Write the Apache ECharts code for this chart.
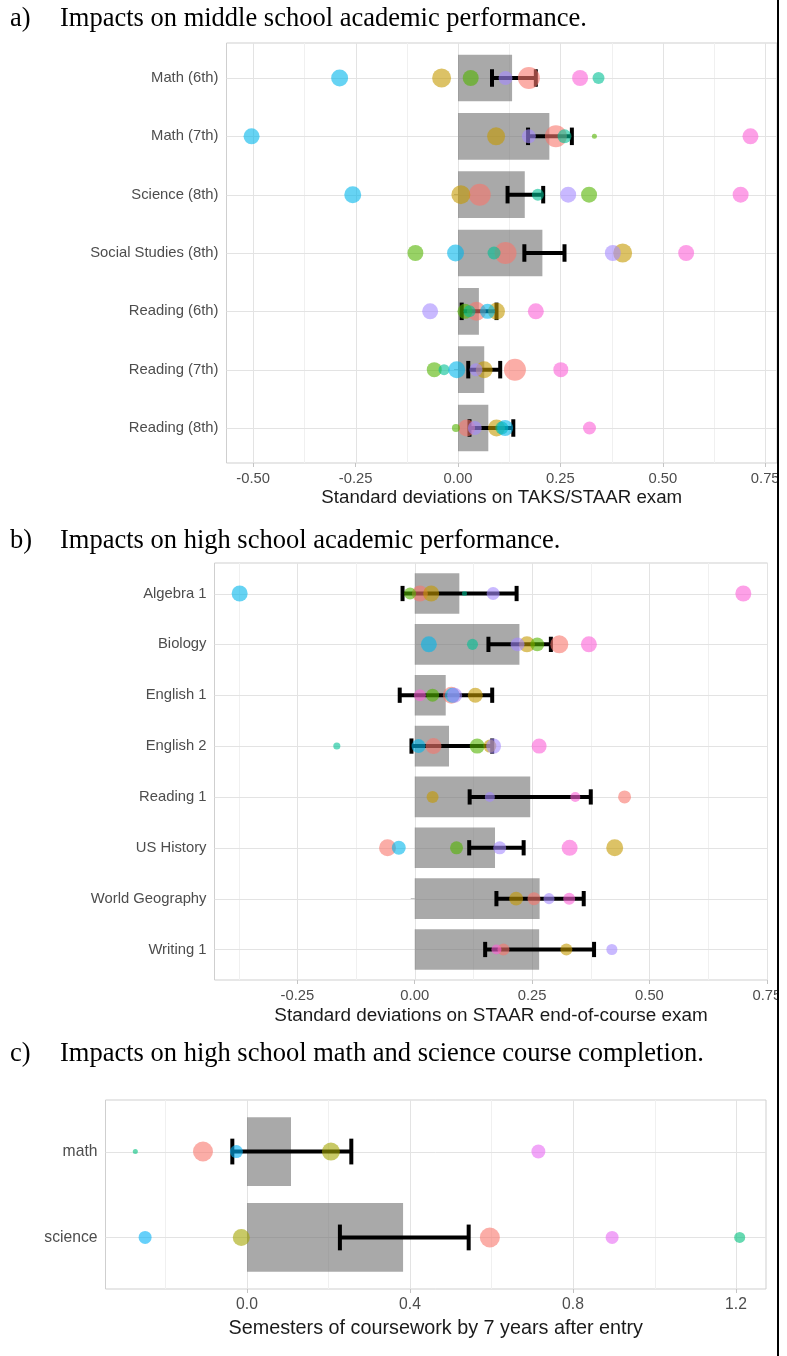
<!DOCTYPE html>
<html>
<head>
<meta charset="utf-8">
<script src="https://cdn.jsdelivr.net/npm/echarts@6/dist/echarts.min.js"></script>
<style>
  html, body { margin: 0; padding: 0; background: #ffffff; }
  #chart { width: 787px; height: 1356px; }
</style>
</head>
<body>
<div id="chart"></div>
<script>
// ---------- a) middle school TAKS/STAAR exams ----------
const msCategories = ['Math (6th)', 'Math (7th)', 'Science (8th)', 'Social Studies (8th)', 'Reading (6th)', 'Reading (7th)', 'Reading (8th)'];
const msPooled = [0.132, 0.223, 0.163, 0.206, 0.051, 0.064, 0.074];
const msLower  = [0.083, 0.171, 0.121, 0.162, 0.009, 0.025, 0.028];
const msUpper  = [0.190, 0.278, 0.208, 0.260, 0.094, 0.103, 0.135];
const msSiteA  = [0.173, 0.239, 0.053, 0.116, 0.045, 0.139, 0.021];
const msWeightA = [13.4, 13.4, 13.4, 13.4, 10.0, 13.4, 8.0];
const msSiteB  = [-0.040, 0.093, 0.007, 0.402, 0.094, 0.064, 0.094];
const msWeightB = [10.0, 9.0, 10.0, 10.0, 8.0, 8.0, 8.0];
const msSiteC  = [0.031, 0.333, 0.320, -0.104, 0.017, -0.058, -0.005];
const msWeightC = [7.1, 0.7, 7.1, 7.1, 6.25, 6.25, 1.8];
const msSiteD  = [0.343, 0.260, 0.195, 0.088, 0.028, -0.034, 0.107];
const msWeightD = [4.0, 5.4, 4.0, 4.7, 4.0, 3.4, 4.7];
const msSiteE  = [-0.289, -0.504, -0.257, -0.006, 0.072, -0.003, 0.115];
const msWeightE = [8.0, 7.1, 8.0, 8.0, 6.25, 8.0, 7.1];
const msSiteF  = [0.116, 0.173, 0.269, 0.378, -0.068, 0.044, 0.041];
const msWeightF = [5.4, 5.4, 7.1, 7.1, 7.1, 4.7, 5.4];
const msSiteG  = [0.298, 0.714, 0.690, 0.557, 0.190, 0.251, 0.321];
const msWeightG = [7.1, 7.1, 7.1, 7.1, 7.1, 6.25, 4.7];
const msTicks = [-0.5, -0.25, 0, 0.25, 0.5, 0.75];
const msMinor = [-0.375, -0.125, 0.125, 0.375, 0.625];

// ---------- b) high school end-of-course exams ----------
const hsCategories = ['Algebra 1', 'Biology', 'English 1', 'English 2', 'Reading 1', 'US History', 'World Geography', 'Writing 1'];
const hsPooled = [0.095, 0.223, 0.066, 0.073, 0.246, 0.171, 0.266, 0.265];
const hsLower  = [-0.026, 0.157, -0.032, -0.007, 0.117, 0.116, 0.174, 0.150];
const hsUpper  = [0.217, 0.290, 0.165, 0.165, 0.375, 0.232, 0.360, 0.382];
const hsSiteA  = [0.011, 0.308, 0.078, 0.040, 0.447, -0.058, 0.254, 0.189];
const hsWeightA = [7.1, 9.0, 8.0, 7.1, 4.7, 8.0, 4.7, 4.0];
const hsSiteB  = [0.035, 0.239, 0.129, 0.160, 0.038, 0.426, 0.216, 0.323];
const hsWeightB = [7.1, 7.1, 6.25, 4.7, 4.0, 8.0, 5.4, 4.0];
const hsSiteC  = [-0.010, 0.261, 0.038, 0.133, null, 0.089, null, null];
const hsWeightC = [4.0, 5.4, 4.7, 6.25, null, 4.7, null, null];
const hsSiteD  = [0.106, 0.123, null, -0.166, null, null, null, null];
const hsWeightD = [0.7, 3.4, null, 1.4, null, null, null, null];
const hsSiteE  = [-0.373, 0.030, 0.080, 0.008, null, -0.034, null, null];
const hsWeightE = [7.1, 7.1, 6.25, 5.4, null, 5.4, null, null];
const hsSiteF  = [0.167, 0.219, 0.085, 0.168, 0.160, 0.181, 0.286, 0.420];
const hsWeightF = [4.7, 5.4, 6.25, 6.25, 2.8, 4.7, 3.4, 3.4];
const hsSiteG  = [0.700, 0.371, 0.011, 0.265, 0.342, 0.330, 0.329, 0.174];
const hsWeightG = [7.1, 7.1, 4.0, 6.25, 2.8, 7.1, 4.0, 2.8];
const hsTicks = [-0.25, 0, 0.25, 0.5, 0.75];
const hsMinor = [-0.375, -0.125, 0.125, 0.375, 0.625];

// ---------- c) math and science course completion ----------
const ccCategories = ['math', 'science'];
const ccPooled = [0.108, 0.383];
const ccLower  = [-0.036, 0.228];
const ccUpper  = [0.256, 0.544];
const ccSiteA  = [-0.108, 0.596];
const ccWeightA = [11.1, 11.1];
const ccSiteB  = [0.206, -0.014];
const ccWeightB = [9.0, 8.0];
const ccSiteC  = [-0.274, 1.209];
const ccWeightC = [0.7, 3.4];
const ccSiteD  = [-0.026, -0.250];
const ccWeightD = [4.7, 4.7];
const ccSiteE  = [0.715, 0.896];
const ccWeightE = [5.4, 4.7];
const ccTicks = [0, 0.4, 0.8, 1.2];
const ccMinor = [-0.2, 0.2, 0.6, 1.0];

// ggplot-style hue palettes
const hue7 = ['#F8766D', '#C49A00', '#53B400', '#00C094', '#00B6EB', '#A58AFF', '#FB61D7'];
const hue5 = ['#F8766D', '#A3A500', '#00BF7D', '#00B0F6', '#E76BF3'];

const SANS = '"Liberation Sans", Arial, sans-serif';
const SERIF = '"Liberation Serif", "Times New Roman", serif';

const panels = [
  {
    cats: msCategories, pooled: msPooled, lower: msLower, upper: msUpper,
    sites: [[msSiteA, msWeightA], [msSiteB, msWeightB], [msSiteC, msWeightC], [msSiteD, msWeightD],
            [msSiteE, msWeightE], [msSiteF, msWeightF], [msSiteG, msWeightG]],
    colors: hue7, ticks: msTicks, minor: msMinor, digits: 2,
    xMin: -0.5652, xMax: 0.7788,
    name: 'Standard deviations on TAKS/STAAR exam',
    box: { left: 226.5, top: 43, width: 550.5, height: 420 },
    labelSize: 14.8, nameSize: 18.7, nameGap: 25
  },
  {
    cats: hsCategories, pooled: hsPooled, lower: hsLower, upper: hsUpper,
    sites: [[hsSiteA, hsWeightA], [hsSiteB, hsWeightB], [hsSiteC, hsWeightC], [hsSiteD, hsWeightD],
            [hsSiteE, hsWeightE], [hsSiteF, hsWeightF], [hsSiteG, hsWeightG]],
    colors: hue7, ticks: hsTicks, minor: hsMinor, digits: 2,
    xMin: -0.4266, xMax: 0.7515,
    name: 'Standard deviations on STAAR end-of-course exam',
    box: { left: 214.5, top: 563, width: 553, height: 417 },
    labelSize: 14.8, nameSize: 18.9, nameGap: 26
  },
  {
    cats: ccCategories, pooled: ccPooled, lower: ccLower, upper: ccUpper,
    sites: [[ccSiteA, ccWeightA], [ccSiteB, ccWeightB], [ccSiteC, ccWeightC], [ccSiteD, ccWeightD],
            [ccSiteE, ccWeightE]],
    colors: hue5, ticks: ccTicks, minor: ccMinor, digits: 1,
    xMin: -0.3472, xMax: 1.2736,
    name: 'Semesters of coursework by 7 years after entry',
    box: { left: 105.5, top: 1100, width: 660.5, height: 189 },
    labelSize: 15.7, nameSize: 19.8, nameGap: 30
  }
];

const BAR_HALF = 0.4;   // bars span 0.8 of a row
const CAP_HALF = 0.15;  // error-bar caps span 0.3 of a row

function vLine(color) {
  return function (params, api) {
    const cs = params.coordSys;
    const x = Math.round(api.coord([api.value(0), api.value(1)])[0]) + 0.5;
    return { type: 'line', silent: true,
      shape: { x1: x, y1: cs.y, x2: x, y2: cs.y + cs.height },
      style: { stroke: color, lineWidth: 1 } };
  };
}
function hLine(color) {
  return function (params, api) {
    const cs = params.coordSys;
    const y = Math.round(api.coord([api.value(0), api.value(1)])[1]) + 0.5;
    return { type: 'line', silent: true,
      shape: { x1: cs.x, y1: y, x2: cs.x + cs.width, y2: y },
      style: { stroke: color, lineWidth: 1 } };
  };
}
function barItem(params, api) {
  const v = api.value(0), r = api.value(1);
  const a = api.coord([0, r - BAR_HALF]);
  const b = api.coord([v, r + BAR_HALF]);
  return { type: 'rect',
    shape: { x: Math.min(a[0], b[0]), y: Math.min(a[1], b[1]),
             width: Math.abs(b[0] - a[0]), height: Math.abs(b[1] - a[1]) },
    style: { fill: 'rgba(112,112,112,0.6)' } };
}
function errorItem(params, api) {
  const lo = api.value(0), hi = api.value(1), r = api.value(2);
  const p0 = api.coord([lo, r]);
  const p1 = api.coord([hi, r]);
  const h = api.size([0, CAP_HALF * 2])[1] / 2;
  const st = { stroke: '#000000', lineWidth: 4 };
  return { type: 'group', children: [
    { type: 'line', shape: { x1: p0[0], y1: p0[1], x2: p1[0], y2: p1[1] }, style: st },
    { type: 'line', shape: { x1: p0[0], y1: p0[1] - h, x2: p0[0], y2: p0[1] + h }, style: st },
    { type: 'line', shape: { x1: p1[0], y1: p1[1] - h, x2: p1[0], y2: p1[1] + h }, style: st }
  ] };
}

const grids = [], xAxes = [], yAxes = [], series = [];

panels.forEach(function (p, i) {
  const rows = p.cats.map(function (c, k) { return k + 1; });
  grids.push({
    left: p.box.left, top: p.box.top, width: p.box.width, height: p.box.height,
    show: true, borderColor: '#cfcfcf', borderWidth: 1, backgroundColor: 'transparent'
  });
  xAxes.push({
    gridIndex: i, type: 'value', min: p.xMin, max: p.xMax,
    axisLine: { show: false },
    axisTick: { show: true, customValues: p.ticks, length: 4, lineStyle: { color: '#c4c4c4' } },
    axisLabel: { customValues: p.ticks, color: '#4d4d4d', fontSize: p.labelSize, fontFamily: SANS, margin: 8,
      formatter: function (v) { return Number(v).toFixed(p.digits); } },
    splitLine: { show: false },
    name: p.name, nameLocation: 'middle', nameGap: p.nameGap,
    nameTextStyle: { color: '#1a1a1a', fontSize: p.nameSize, fontFamily: SANS }
  });
  yAxes.push({
    gridIndex: i, type: 'value', min: 0.4, max: p.cats.length + 0.6, inverse: true,
    axisLine: { show: false },
    axisTick: { show: true, customValues: rows, length: 4, lineStyle: { color: '#c4c4c4' } },
    axisLabel: { customValues: rows, color: '#4d4d4d', fontSize: p.labelSize, fontFamily: SANS, margin: 8,
      formatter: function (v) { return p.cats[Math.round(v) - 1]; } },
    splitLine: { show: false }
  });

  // panel gridlines
  series.push({ type: 'custom', xAxisIndex: i, yAxisIndex: i, z: 1, silent: true,
    renderItem: vLine('#f0f0f0'), encode: { x: 0, y: 1 },
    data: p.minor.map(function (v) { return [v, 1]; }) });
  series.push({ type: 'custom', xAxisIndex: i, yAxisIndex: i, z: 1, silent: true,
    renderItem: vLine('#e3e3e3'), encode: { x: 0, y: 1 },
    data: p.ticks.map(function (v) { return [v, 1]; }) });
  series.push({ type: 'custom', xAxisIndex: i, yAxisIndex: i, z: 1, silent: true,
    renderItem: hLine('#e3e3e3'), encode: { x: 0, y: 1 },
    data: rows.map(function (r) { return [0, r]; }) });

  // pooled estimate bars
  series.push({ type: 'custom', xAxisIndex: i, yAxisIndex: i, z: 2, silent: true,
    renderItem: barItem, encode: { x: 0, y: 1 },
    data: p.pooled.map(function (v, k) { return [v, k + 1]; }) });

  // confidence intervals
  series.push({ type: 'custom', xAxisIndex: i, yAxisIndex: i, z: 3, silent: true,
    renderItem: errorItem, encode: { x: [0, 1], y: 2 },
    data: p.lower.map(function (lo, k) { return [lo, p.upper[k], k + 1]; }) });

  // site-level estimates, sized by weight
  p.sites.forEach(function (s, j) {
    const vals = s[0], wts = s[1];
    const data = [];
    vals.forEach(function (v, k) { if (v !== null) data.push([v, k + 1, wts[k]]); });
    series.push({ type: 'scatter', xAxisIndex: i, yAxisIndex: i, z: 4, silent: true,
      symbol: 'circle',
      symbolSize: function (d) { return 6 * Math.sqrt(d[2]); },
      itemStyle: { color: p.colors[j], opacity: 0.6 },
      data: data });
  });
});

const titles = [
  { tag: 'a)', text: 'Impacts on middle school academic performance.', y: 19 },
  { tag: 'b)', text: 'Impacts on high school academic performance.', y: 541 },
  { tag: 'c)', text: 'Impacts on high school math and science course completion.', y: 1054 }
];
const graphics = [];
titles.forEach(function (t) {
  graphics.push({ type: 'text', x: 10, y: t.y, z: 10,
    style: { text: t.tag, font: '26.5px ' + SERIF, fill: '#000000', verticalAlign: 'middle', textVerticalAlign: 'middle' } });
  graphics.push({ type: 'text', x: 60, y: t.y, z: 10,
    style: { text: t.text, font: '26.5px ' + SERIF, fill: '#000000', verticalAlign: 'middle', textVerticalAlign: 'middle' } });
});
// page edge on the right
graphics.push({ type: 'rect', z: 100, shape: { x: 779, y: 0, width: 8, height: 1356 }, style: { fill: '#ffffff' } });
graphics.push({ type: 'line', z: 101, shape: { x1: 778, y1: 0, x2: 778, y2: 1356 }, style: { stroke: '#000000', lineWidth: 2 } });

const chart = echarts.init(document.getElementById('chart'), null, { renderer: 'canvas' });
chart.setOption({
  animation: false,
  backgroundColor: '#ffffff',
  grid: grids,
  xAxis: xAxes,
  yAxis: yAxes,
  series: series,
  graphic: graphics
});
</script>
</body>
</html>
